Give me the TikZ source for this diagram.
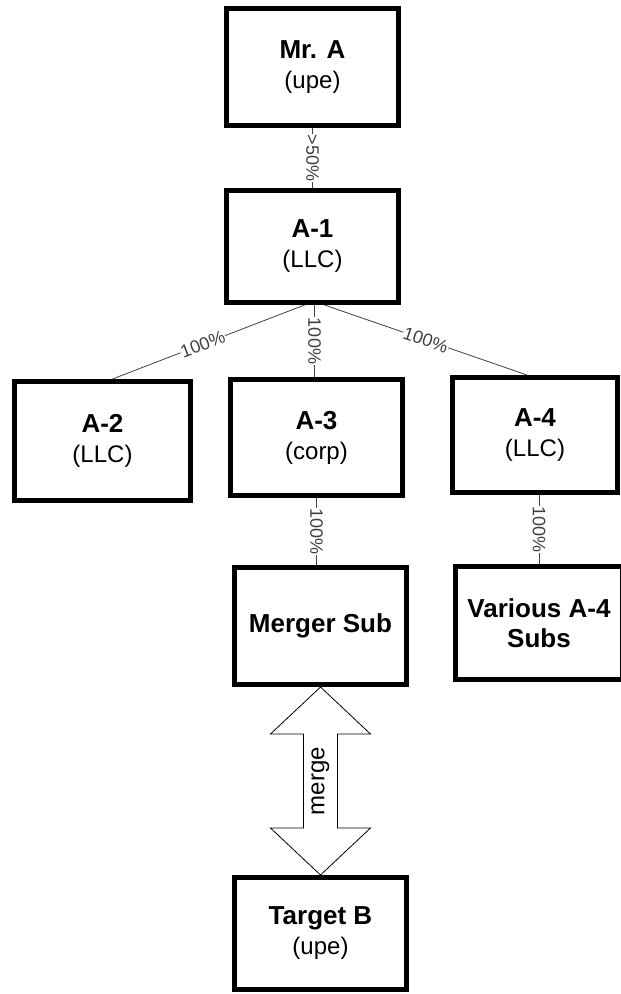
\documentclass[tikz,border=0pt]{standalone}
\usepackage{fontspec}
\setmainfont{Liberation Sans}
\usepackage{tikz}
\usetikzlibrary{calc}

\begin{document}
\begin{tikzpicture}[x=1pt,y=-1pt,
		entity/.style={draw,line width=5pt,align=center,inner sep=2pt,
			font=\fontsize{24}{30}\selectfont},
		link/.style={black!75,line width=0.8pt},
		pct/.style={fill=white,inner sep=0.6pt,font=\fontsize{18}{18}\selectfont},
		mergearrow/.style={draw,line width=0.8pt,fill=white,line join=miter}]
			\useasboundingbox (0,0) rectangle (621,994);
			
			\coordinate (mrapos) at (312.5,67);
			\coordinate (aonepos) at (312.5,246.5);
			\coordinate (atwopos) at (102.5,441);
			\coordinate (athreepos) at (316.5,437.5);
			\coordinate (afourpos) at (535,435);
			\coordinate (mergerpos) at (320.5,626);
			\coordinate (variouspos) at (539,623);
			\coordinate (targetpos) at (320.5,933.5);
			
			\node[entity,minimum width=172pt,minimum height=117pt] (mra) at (mrapos) {{\bfseries\fontsize{26}{30}\selectfont Mr. A}\\(upe)};
			\node[entity,minimum width=172pt,minimum height=112pt] (a1) at (aonepos) {{\bfseries\fontsize{26}{30}\selectfont A-1}\\(LLC)};
			\node[entity,minimum width=176pt,minimum height=119pt] (a2) at (atwopos) {{\bfseries\fontsize{26}{30}\selectfont A-2}\\(LLC)};
			\node[entity,minimum width=172pt,minimum height=116pt] (a3) at (athreepos) {{\bfseries\fontsize{26}{30}\selectfont A-3}\\(corp)};
			\node[entity,minimum width=165pt,minimum height=115pt] (a4) at (afourpos) {{\bfseries\fontsize{26}{30}\selectfont A-4}\\(LLC)};
			\node[entity,minimum width=172pt,minimum height=117pt] (ms) at (mergerpos) {\bfseries\fontsize{26}{30}\selectfont Merger Sub};
			\node[entity,minimum width=167pt,minimum height=113pt] (vs) at (variouspos) {\bfseries\fontsize{26}{31}\selectfont Various A-4\\\bfseries\fontsize{26}{31}\selectfont Subs};
			\node[entity,minimum width=172pt,minimum height=112pt] (tb) at (targetpos) {{\bfseries\fontsize{26}{30}\selectfont Target B}\\(upe)};
			
			\draw[link] (mra.south) -- (a1.north) node[pct,rotate=-90,midway] {>50\%};
			\draw[link] ([xshift=-8pt]a1.south) -- ([xshift=10pt]a2.north) node[pct,sloped,pos=0.53] {100\%};
			\draw[link] ([xshift=2pt]a1.south) -- ([xshift=2pt]a1.south |- a3.north) node[pct,rotate=-90,midway] {100\%};
			\draw[link] ([xshift=12pt]a1.south) -- ([xshift=-8pt]a4.north) node[pct,sloped,pos=0.5] {100\%};
			\draw[link] (a3.south) -- (a3.south |- ms.north) node[pct,rotate=-90,midway] {100\%};
			\draw[link] (vs.north |- a4.south) -- (vs.north) node[pct,rotate=-90,midway] {100\%};
			
			\draw[mergearrow] (ms.south) -- ++(50,47) -- ++(-33,0) -- ++(0,94) -- ++(33,0) -- ++(-50,47)
				-- ++(-50,-47) -- ++(33,0) -- ++(0,-94) -- ++(-33,0) -- cycle;
			\node[rotate=90,font=\fontsize{24}{24}\selectfont] (mg) at ($(ms.south)!0.5!(tb.north)$) {merge};
		\end{tikzpicture}
\end{document}
